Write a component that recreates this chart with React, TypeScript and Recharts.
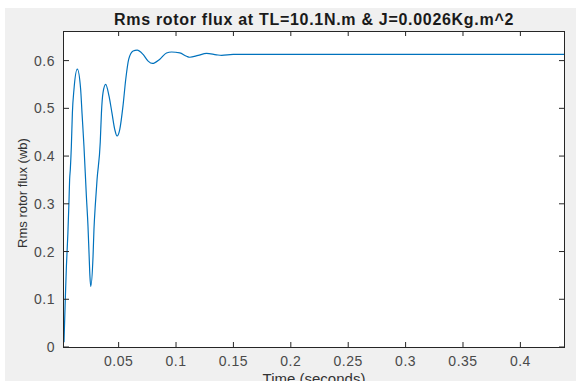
import { LineChart, Line, XAxis, YAxis } from "recharts";

const times = [
  0.0024, 0.0036, 0.0045, 0.0058, 0.0067, 0.0073, 0.0079, 0.0088, 0.0097, 0.0111,
  0.014, 0.0169, 0.0181, 0.0198, 0.0219, 0.0233, 0.0242, 0.025, 0.0257, 0.0277,
  0.0285, 0.0298, 0.0312, 0.034, 0.035, 0.0364, 0.0387, 0.0416, 0.0442, 0.0466,
  0.0486, 0.051, 0.0538, 0.0562, 0.0588, 0.0626, 0.0661, 0.0713, 0.0757, 0.0795,
  0.0859, 0.0917, 0.0961, 0.1033, 0.1092, 0.112, 0.1193, 0.1266, 0.1353, 0.1397,
  0.1498, 0.2, 0.3, 0.4, 0.438,
];
const flux = [
  0.01, 0.106, 0.169, 0.239, 0.302, 0.351, 0.372, 0.42, 0.49, 0.54,
  0.582, 0.54, 0.49, 0.42, 0.316, 0.253, 0.197, 0.148, 0.127, 0.19,
  0.246, 0.302, 0.351, 0.43, 0.49, 0.533, 0.55, 0.526, 0.49, 0.456,
  0.442, 0.456, 0.505, 0.561, 0.603, 0.62, 0.622, 0.613, 0.599, 0.594,
  0.603, 0.616, 0.618, 0.616, 0.609, 0.607, 0.611, 0.615, 0.612, 0.611,
  0.613, 0.613, 0.613, 0.613, 0.613,
];
const xTicks = [0.05, 0.1, 0.15, 0.2, 0.25, 0.3, 0.35, 0.4];
const yTicks = [0, 0.1, 0.2, 0.3, 0.4, 0.5, 0.6];

const data = times.map((t, i) => ({ t, v: flux[i] }));

const FONT = "'Liberation Sans', Arial, sans-serif";
const AXIS = "#262626";
const X_DOMAIN = [0.0024, 0.438];
const Y_DOMAIN = [0, 0.662];

export default function App() {
  const tickStyle = { fontSize: 14, fill: "#4a4a4a", fontFamily: FONT, letterSpacing: 0.5 };
  return (
    <div
      style={{
        position: "absolute",
        left: 0,
        top: 0,
        width: 576,
        height: 381,
        background: "#fff",
        overflow: "hidden",
      }}
    >
      {/* matlab figure background */}
      <div
        style={{
          position: "absolute",
          left: 5,
          top: 8,
          width: 571,
          height: 373,
          background: "#f0f0f0",
        }}
      />
      {/* white axes box */}
      <div
        style={{
          position: "absolute",
          left: 64,
          top: 31,
          width: 500,
          height: 316,
          background: "#fff",
        }}
      />
      <div
        style={{
          position: "absolute",
          left: 64,
          top: 11,
          width: 500,
          textAlign: "center",
          fontFamily: FONT,
          fontWeight: "bold",
          fontSize: 16,
          letterSpacing: 0.7,
          whiteSpace: "nowrap",
          color: "#1a1a1a",
        }}
      >
        Rms rotor flux at TL=10.1N.m &amp; J=0.0026Kg.m^2
      </div>
      <div
        style={{
          position: "absolute",
          left: 22,
          top: 193,
          transform: "translate(-50%, -50%) rotate(-90deg)",
          whiteSpace: "nowrap",
          fontFamily: FONT,
          fontSize: 13,
          color: "#333",
        }}
      >
        Rms rotor flux (wb)
      </div>
      <div
        style={{
          position: "absolute",
          left: 64,
          top: 370,
          width: 500,
          textAlign: "center",
          fontFamily: FONT,
          fontSize: 15,
          color: "#333",
        }}
      >
        Time (seconds)
      </div>
      <div style={{ position: "absolute", left: 0, top: 0 }}>
        <LineChart
          width={576}
          height={381}
          data={data}
          margin={{ top: 26, right: 7, left: 0, bottom: 0 }}
        >
          <XAxis
            xAxisId={0}
            dataKey="t"
            type="number"
            domain={X_DOMAIN}
            ticks={xTicks}
            allowDataOverflow
            height={34}
            axisLine={false}
            tickSize={-5}
            tickMargin={14}
            stroke={AXIS}
            tick={tickStyle}
          />
          {/* top/right axes only carry the inward tick marks */}
          <XAxis
            xAxisId={1}
            dataKey="t"
            type="number"
            orientation="top"
            domain={X_DOMAIN}
            ticks={xTicks}
            allowDataOverflow
            height={5}
            axisLine={false}
            tickSize={-5}
            tickFormatter={() => ""}
            stroke={AXIS}
          />
          <YAxis
            yAxisId={0}
            type="number"
            domain={Y_DOMAIN}
            ticks={yTicks}
            allowDataOverflow
            width={64}
            axisLine={false}
            tickSize={-5}
            tickMargin={14}
            stroke={AXIS}
            tick={tickStyle}
          />
          <YAxis
            yAxisId={1}
            type="number"
            orientation="right"
            domain={Y_DOMAIN}
            ticks={yTicks}
            allowDataOverflow
            width={5}
            axisLine={false}
            tickSize={-5}
            tickFormatter={() => ""}
            stroke={AXIS}
          />
          <Line
            xAxisId={1}
            yAxisId={1}
            dataKey="v"
            type="monotone"
            stroke="none"
            dot={false}
            isAnimationActive={false}
          />
          <Line
            xAxisId={0}
            yAxisId={0}
            dataKey="v"
            type="monotone"
            stroke="#0072BD"
            strokeWidth={1.2}
            dot={false}
            isAnimationActive={false}
          />
        </LineChart>
      </div>
      {/* axes frame (box on) */}
      <div
        style={{
          position: "absolute",
          left: 63,
          top: 31,
          width: 502,
          height: 317,
          boxSizing: "border-box",
          border: `1px solid ${AXIS}`,
          pointerEvents: "none",
        }}
      />
    </div>
  );
}
